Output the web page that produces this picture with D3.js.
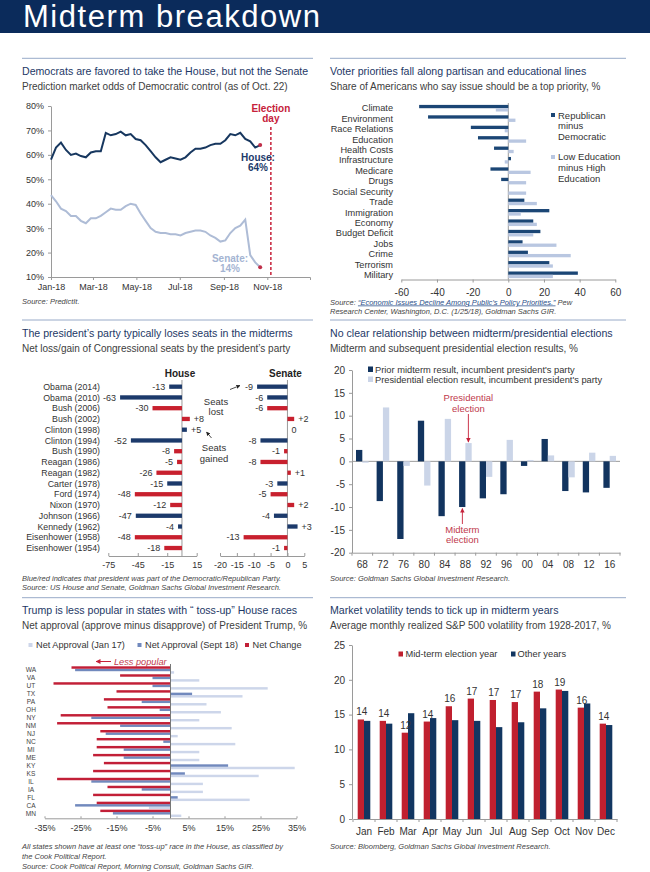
<!DOCTYPE html>
<html>
<head>
<meta charset="utf-8">
<script src="https://cdn.jsdelivr.net/npm/d3@7"></script>
<style>
body { margin: 0; background: #fff; }
svg { display: block; font-family: "Liberation Sans", Arial, sans-serif; }
.ttl { fill: #1d3866; font-size: 10.6px; }
.sub { fill: #404040; font-size: 10px; }
.src { fill: #444; font-size: 7.5px; font-style: italic; }
.lbl { fill: #333; }
</style>
</head>
<body>
<script>
// ---- data ----
// panel 1: PredictIt odds of Democratic control, weekly from Jan 1 to Oct 22 2018
var houseOdds = [58,63,65,62,60,60.5,59.5,59,61,61.5,61.5,69,68,68.5,69.5,68,68.5,66.5,66,64,61.5,59,57,58,59,58.5,58,59,61,62.5,62.5,63,64,64.5,64.5,66,68.5,68,69,66.5,65.5,63,64];
var senateOdds = [43.5,41,38,37,35,35,33,32,34,34,35,36.5,38,37.5,37.5,39,40,39.5,36,33,30,28.5,28,28,27.5,27.5,27,28,28.5,29,29,28.5,27,26,24.5,25,28,30,31,33.5,19,16,14];
var oddsTicks = [10,20,30,40,50,60,70,80];

// panel 2: voter priorities
var issues = ["Climate","Environment","Race Relations","Education","Health Costs","Infrastructure","Medicare","Drugs","Social Security","Trade","Immigration","Economy","Budget Deficit","Jobs","Crime","Terrorism","Military"];
var repMinusDem = [-50,-45,-21,-17,-8,1.5,-10,-4,0,9,23,14,18,8,11,23,39];
var lowMinusHigh = [-7,4,-2,10,3,-2,12.5,10,10,16,7,16,14,27,35,25,25];
var priorityTicks = [-60,-40,-20,0,20,40,60];

// panel 3: midterm seat changes
var presidents = ["Obama (2014)","Obama (2010)","Bush (2006)","Bush (2002)","Clinton (1998)","Clinton (1994)","Bush (1990)","Reagan (1986)","Reagan (1982)","Carter (1978)","Ford (1974)","Nixon (1970)","Johnson (1966)","Kennedy (1962)","Eisenhower (1958)","Eisenhower (1954)"];
var presParty = ["D","D","R","R","D","D","R","R","R","D","R","R","D","D","R","R"];
var houseSeats = [-13,-63,-30,8,5,-52,-8,-5,-26,-15,-48,-12,-47,-4,-48,-18];
var senateSeats = [-9,-6,-6,2,0,-8,-1,-8,1,-3,-5,2,-4,3,-13,-1];
var houseTicks = [-75,-45,-15,15];
var senateTicks = [-20,-15,-10,-5,0,5];

// panel 4: midterm vs presidential results
var elYears = ["68","72","76","80","84","88","92","96","00","04","08","12","16"];
var priorMidterm = [2.5,-8.7,-17,8.9,-12,-10,-8.1,-7.2,-1,4.9,-6.5,-6.8,-5.8];
var presResult = [-0.3,11.8,-1,-5.3,9.3,4,-3.4,4.7,0.3,1.3,-3.5,1.9,1.2];
var elTicks = [-20,-15,-10,-5,0,5,10,15,20];

// panel 5: Trump net approval by state
var states = ["WA","VA","UT","TX","PA","OH","NY","NM","NJ","NC","MI","ME","KY","KS","IL","IA","FL","CA","MN"];
var approvalJan = [1,8,27,20,10,14,8,17,2,18,8,8,34.5,24.5,9,9,22,-6,3];
var approvalSep = [-26.5,-5,-5,6,-8,-3,-22,-14,-18,-2,-13,-13,16,4,-22,-8,2,-26.5,-16];
var approvalChg = [-27.5,-14,-32.5,-15,-18.5,-17.5,-30.5,-31.5,-19.5,-20.5,-20.5,-21.5,-18.5,-21.5,-31.5,-17.5,-21.5,-20.5,-19.5];
var approvalTicks = [-35,-25,-15,-5,5,15,25,35];

// panel 6: S&P 500 volatility by month
var months = ["Jan","Feb","Mar","Apr","May","Jun","Jul","Aug","Sep","Oct","Nov","Dec"];
var volMidterm = [14.3,14.1,12.4,14,16.2,17.3,17.1,16.8,18.3,18.6,16,13.7];
var volOther = [14.1,13.7,15.2,14.5,14.2,14.1,13.2,13.9,15.9,18.4,16.6,13.5];
var volTicks = [0,5,10,15,20,25];

var navy = "#1c3a6b", red = "#c6213a", grey = "#9a9a9a";
var plain = function(d) { return String(d); }; // keeps a hyphen for negatives

var svg = d3.select("body").append("svg").attr("width", 650).attr("height", 872);
var defs = svg.append("defs");
function marker(id, color) {
  defs.append("marker").attr("id", id).attr("viewBox", "0 0 10 10")
    .attr("refX", 9).attr("refY", 5).attr("markerWidth", 5).attr("markerHeight", 5)
    .attr("orient", "auto")
    .append("path").attr("d", "M0,0L10,5L0,10z").attr("fill", color);
}
marker("arrRed", red);
marker("arrDark", "#222");

// banner
svg.append("rect").attr("width", 650).attr("height", 33).attr("fill", "#0b2b5b");
svg.append("text").attr("x", 23).attr("y", 27).attr("fill", "#fff")
  .attr("font-size", 31).attr("textLength", 297).attr("lengthAdjust", "spacing")
  .text("Midterm breakdown");

function header(x0, x1, y, title, sub) {
  svg.append("line").attr("x1", x0).attr("x2", x1).attr("y1", y).attr("y2", y)
    .attr("stroke", "#98aac8").attr("stroke-width", 1);
  svg.append("text").attr("class", "ttl").attr("x", x0).attr("y", y + 16.7).text(title);
  svg.append("text").attr("class", "sub").attr("x", x0).attr("y", y + 31.5).text(sub);
}
function note(x, y, lines) {
  lines.forEach(function(t, i) {
    svg.append("text").attr("class", "src").attr("x", x).attr("y", y + i * 9.8).text(t);
  });
}
function styleAxis(g, fs) {
  g.attr("font-family", null).attr("font-size", fs);
  g.select(".domain").attr("stroke", grey);
  g.selectAll(".tick line").attr("stroke", grey);
  g.selectAll(".tick text").attr("fill", "#333");
  return g;
}
function textLines(x, y, lines, fill, opts) {
  var t = svg.append("text").attr("x", x).attr("y", y).attr("fill", fill)
    .attr("font-size", opts.size || 10).attr("text-anchor", opts.anchor || "middle")
    .attr("font-weight", opts.weight || null).attr("font-style", opts.style || null);
  lines.forEach(function(s, i) {
    t.append("tspan").attr("x", x).attr("dy", i ? (opts.lh || 10.4) : 0).text(s);
  });
}

// ===== panel 1 =====
header(22, 313, 58.3, "Democrats are favored to take the House, but not the Senate",
  "Prediction market odds of Democratic control (as of Oct. 22)");
var oddsWeeks = d3.timeMonday.range(new Date(2018, 0, 1), new Date(2018, 9, 23));
var x1 = d3.scaleTime().domain([new Date(2018, 0, 1), new Date(2018, 11, 31)]).range([51, 310]);
var y1 = d3.scaleLinear().domain([10, 80]).range([277, 106]);

styleAxis(svg.append("g").attr("transform", "translate(51,0)")
  .call(d3.axisLeft(y1).tickValues(oddsTicks).tickFormat(function(d) { return d + "%"; })
    .tickSize(3).tickSizeOuter(0).tickPadding(4)), 9);
styleAxis(svg.append("g").attr("transform", "translate(0,277)")
  .call(d3.axisBottom(x1).ticks(d3.timeMonth.every(2)).tickFormat(d3.timeFormat("%b-%y"))
    .tickSize(3).tickSizeOuter(3).tickPadding(4)), 9);

var line1 = d3.line().x(function(d, i) { return x1(oddsWeeks[i]); }).y(function(d) { return y1(d); });
svg.append("path").datum(senateOdds).attr("d", line1).attr("fill", "none")
  .attr("stroke", "#aebcd6").attr("stroke-width", 2);
svg.append("path").datum(houseOdds).attr("d", line1).attr("fill", "none")
  .attr("stroke", "#17375f").attr("stroke-width", 2);
[houseOdds, senateOdds].forEach(function(s) {
  svg.append("circle").attr("cx", x1(oddsWeeks[s.length - 1])).attr("cy", y1(s[s.length - 1]))
    .attr("r", 2).attr("fill", "#c0304a");
});
var elecDay = new Date(2018, 10, 6);
svg.append("line").attr("x1", x1(elecDay)).attr("x2", x1(elecDay)).attr("y1", 127).attr("y2", 277)
  .attr("stroke", red).attr("stroke-width", 1.5).attr("stroke-dasharray", "3,2");
textLines(x1(elecDay), 112, ["Election", "day"], red, { weight: "bold", size: 10 });
textLines(258, 161, ["House:", "64%"], "#1c3a6b", { weight: "bold", size: 10 });
textLines(230, 262, ["Senate:", "14%"], "#a4b4d2", { weight: "bold", size: 10 });
note(22, 304, ["Source: PredictIt."]);

// ===== panel 2 =====
header(330, 626, 58.3, "Voter priorities fall along partisan and educational lines",
  "Share of Americans who say issue should be a top priority, %");
var x2 = d3.scaleLinear().domain([-60, 60]).range([401.3, 615.3]);
var y2 = d3.scaleBand().domain(issues).range([103, 280]);
var sub2 = d3.scaleBand().domain(["rep", "edu"]).range([1.9, y2.bandwidth() - 1.9]);
var p2 = issues.map(function(d, i) { return { k: d, rep: repMinusDem[i], edu: lowMinusHigh[i] }; });

styleAxis(svg.append("g").attr("transform", "translate(0,279.5)")
  .call(d3.axisBottom(x2).tickValues(priorityTicks).tickFormat(plain)
    .tickSize(3).tickSizeOuter(0).tickPadding(6)), 10);
svg.append("line").attr("x1", x2(0)).attr("x2", x2(0)).attr("y1", 103).attr("y2", 279.5).attr("stroke", grey);
[["rep", "#1b4675"], ["edu", "#b9c7e1"]].forEach(function(s) {
  svg.append("g").selectAll("rect").data(p2).join("rect")
    .attr("x", function(d) { return x2(Math.min(0, d[s[0]])); })
    .attr("width", function(d) { return Math.abs(x2(d[s[0]]) - x2(0)); })
    .attr("y", function(d) { return y2(d.k) + sub2(s[0]); })
    .attr("height", sub2.bandwidth()).attr("fill", s[1]);
});
svg.append("g").selectAll("text").data(issues).join("text").attr("class", "lbl")
  .attr("x", 393).attr("y", function(d) { return y2(d) + y2.bandwidth() / 2 + 3.2; })
  .attr("text-anchor", "end").attr("font-size", 9.2).text(function(d) { return d; });
svg.append("rect").attr("x", 551).attr("y", 113).attr("width", 4).attr("height", 4).attr("fill", "#1b4675");
textLines(558, 118.5, ["Republican", "minus", "Democratic"], "#333", { anchor: "start", size: 9.5, lh: 10.6 });
svg.append("rect").attr("x", 551).attr("y", 155).attr("width", 4).attr("height", 4).attr("fill", "#b9c7e1");
textLines(558, 160.3, ["Low Education", "minus High", "Education"], "#333", { anchor: "start", size: 9.5, lh: 10.6 });
var s2 = svg.append("text").attr("class", "src").attr("x", 330).attr("y", 304.5);
s2.append("tspan").text("Source: ");
s2.append("tspan").attr("text-decoration", "underline").attr("fill", "#2a4f8a")
  .text("\u201cEconomic Issues Decline Among Public\u2019s Policy Priorities.\u201d");
s2.append("tspan").text(" Pew");
note(330, 314.3, ["Research Center, Washington, D.C. (1/25/18), Goldman Sachs GIR."]);

// ===== panel 3 =====
header(22, 313, 320, "The president\u2019s party typically loses seats in the midterms",
  "Net loss/gain of Congressional seats by the president\u2019s party");
var y3 = d3.scaleBand().domain(presidents).range([381.3, 553.4]).paddingInner(0.6).paddingOuter(0.3);
var xh = d3.scaleLinear().domain([-75, 15]).range([108.3, 196.7]);
var xs = d3.scaleLinear().domain([-20, 5]).range([220, 304.3]);
var p3 = presidents.map(function(d, i) { return { k: d, party: presParty[i], house: houseSeats[i], senate: senateSeats[i] }; });
function fmtSeat(v) { return v > 0 ? "+" + v : "" + v; }

[["house", xh, houseTicks, "House"], ["senate", xs, senateTicks, "Senate"]].forEach(function(c) {
  var key = c[0], sx = c[1];
  styleAxis(svg.append("g").attr("transform", "translate(0,556)")
    .call(d3.axisBottom(sx).tickValues(c[2]).tickFormat(plain)
      .tickSize(-3).tickSizeOuter(0).tickPadding(6)), 9);
  svg.append("line").attr("x1", sx(0)).attr("x2", sx(0)).attr("y1", 380).attr("y2", 556).attr("stroke", grey);
  svg.append("g").selectAll("rect").data(p3).join("rect")
    .attr("x", function(d) { return sx(Math.min(0, d[key])); })
    .attr("width", function(d) { return Math.abs(sx(d[key]) - sx(0)); })
    .attr("y", function(d) { return y3(d.k); }).attr("height", y3.bandwidth())
    .attr("fill", function(d) { return d.party === "D" ? navy : "#c8202e"; });
  svg.append("g").selectAll("text").data(p3).join("text").attr("class", "lbl")
    .attr("font-size", 9)
    .attr("x", function(d) { return d[key] < 0 ? sx(d[key]) - 4 : sx(d[key]) + 4; })
    .attr("y", function(d) { return y3(d.k) + y3.bandwidth() / 2 + 3.2; })
    .attr("text-anchor", function(d) { return d[key] < 0 ? "end" : "start"; })
    .text(function(d) { return fmtSeat(d[key]); });
  svg.append("text").attr("x", sx(0) - 2).attr("y", 376.5).attr("text-anchor", "middle")
    .attr("font-weight", "bold").attr("font-size", 10).attr("fill", "#222").text(c[3]);
});
svg.append("g").selectAll("text").data(presidents).join("text").attr("class", "lbl")
  .attr("x", 100).attr("y", function(d) { return y3(d) + y3.bandwidth() / 2 + 3.2; })
  .attr("text-anchor", "end").attr("font-size", 8.8).text(function(d) { return d; });
textLines(216, 404.5, ["Seats", "lost"], "#333", { size: 9.5, lh: 10.8 });
textLines(214, 451, ["Seats", "gained"], "#333", { size: 9.5, lh: 11 });
svg.append("line").attr("x1", 230).attr("y1", 389.5).attr("x2", 240).attr("y2", 385.5)
  .attr("stroke", "#222").attr("stroke-width", 0.8).attr("marker-end", "url(#arrDark)");
svg.append("line").attr("x1", 211.5).attr("y1", 438).attr("x2", 206.5).attr("y2", 432)
  .attr("stroke", "#222").attr("stroke-width", 0.8).attr("marker-end", "url(#arrDark)");
note(22, 580.5, ["Blue/red indicates that president was part of the Democratic/Republican Party.",
  "Source: US House and Senate, Goldman Sachs Global Investment Research."]);

// ===== panel 4 =====
header(330, 626, 320, "No clear relationship between midterm/presidential elections",
  "Midterm and subsequent presidential election results, %");
var x4 = d3.scaleBand().domain(elYears).range([352, 620]);
var y4 = d3.scaleLinear().domain([-20, 20]).range([552.7, 370]);
var bw4 = 6.3;
var p4 = elYears.map(function(d, i) { return { k: d, mid: priorMidterm[i], pres: presResult[i] }; });
styleAxis(svg.append("g").attr("transform", "translate(352,0)")
  .call(d3.axisLeft(y4).tickValues(elTicks).tickFormat(plain)
    .tickSize(3).tickSizeOuter(0).tickPadding(4)), 10);
var ax4 = styleAxis(svg.append("g").attr("transform", "translate(0,552.7)")
  .call(d3.axisBottom(x4).tickSize(0).tickPadding(8)), 10);
ax4.selectAll(".bnd").data(elYears.concat(["end"])).join("line").attr("class", "bnd")
  .attr("x1", function(d) { return d === "end" ? x4.range()[1] : x4(d); })
  .attr("x2", function(d) { return d === "end" ? x4.range()[1] : x4(d); })
  .attr("y1", 0).attr("y2", 3).attr("stroke", grey);
svg.append("line").attr("x1", 352).attr("x2", 620).attr("y1", y4(0)).attr("y2", y4(0)).attr("stroke", grey);
[["mid", "#12345f", -bw4], ["pres", "#cbd5e8", 0]].forEach(function(s) {
  svg.append("g").selectAll("rect").data(p4).join("rect")
    .attr("x", function(d) { return x4(d.k) + x4.bandwidth() / 2 + s[2]; })
    .attr("width", bw4)
    .attr("y", function(d) { return y4(Math.max(0, d[s[0]])); })
    .attr("height", function(d) { return Math.abs(y4(d[s[0]]) - y4(0)); })
    .attr("fill", s[1]);
});
svg.append("rect").attr("x", 368).attr("y", 366.5).attr("width", 5).attr("height", 5.5).attr("fill", "#12345f");
svg.append("text").attr("class", "lbl").attr("x", 375).attr("y", 372.5).attr("font-size", 9.3)
  .text("Prior midterm result, incumbent president's party");
svg.append("rect").attr("x", 368).attr("y", 376.5).attr("width", 5).attr("height", 5.5).attr("fill", "#cbd5e8");
svg.append("text").attr("class", "lbl").attr("x", 375).attr("y", 382.5).attr("font-size", 9.3)
  .text("Presidential election result, incumbent president's party");
var c88 = x4("88") + x4.bandwidth() / 2;
textLines(c88 + 3, 401, ["Presidential", "election"], "#c0394b", { size: 9.5, lh: 10.7 });
svg.append("line").attr("x1", c88 + 3).attr("x2", c88 + 3).attr("y1", 414).attr("y2", y4(presResult[5]) - 1)
  .attr("stroke", red).attr("stroke-width", 0.9).attr("marker-end", "url(#arrRed)");
textLines(c88 - 3, 532.7, ["Midterm", "election"], "#c0394b", { size: 9.5, lh: 10.7 });
svg.append("line").attr("x1", c88 - 3).attr("x2", c88 - 3).attr("y1", 524).attr("y2", y4(priorMidterm[5]) + 1.5)
  .attr("stroke", red).attr("stroke-width", 0.9).attr("marker-end", "url(#arrRed)");
note(330, 580.5, ["Source: Goldman Sachs Global Investment Research."]);

// ===== panel 5 =====
header(22, 313, 597.7, "Trump is less popular in states with \u201c toss-up\u201d  House races",
  "Net approval (approve minus disapprove) of President Trump, %");
var x5 = d3.scaleLinear().domain([-35, 35]).range([44.5, 296.5]);
var y5 = d3.scaleBand().domain(states).range([666, 817.3]);
var sub5 = d3.scaleBand().domain(["chg", "sep", "jan"]).range([0.3, y5.bandwidth() - 0.3]);
var p5 = states.map(function(d, i) { return { k: d, jan: approvalJan[i], sep: approvalSep[i], chg: approvalChg[i] }; });
var c5 = { jan: "#cdd6ea", sep: "#7189bd", chg: "#c21f37" };
styleAxis(svg.append("g").attr("transform", "translate(0,818.3)")
  .call(d3.axisBottom(x5).tickValues(approvalTicks).tickFormat(function(d) { return d + "%"; })
    .tickSize(-2).tickSizeOuter(0).tickPadding(6)), 9);
["jan", "sep", "chg"].forEach(function(key) {
  svg.append("g").selectAll("rect").data(p5).join("rect")
    .attr("x", function(d) { return x5(Math.min(0, d[key])); })
    .attr("width", function(d) { return Math.abs(x5(d[key]) - x5(0)); })
    .attr("y", function(d) { return y5(d.k) + sub5(key); })
    .attr("height", sub5.bandwidth()).attr("fill", c5[key]);
});
svg.append("line").attr("x1", x5(0)).attr("x2", x5(0)).attr("y1", 664).attr("y2", 818.3).attr("stroke", "#777");
svg.append("g").selectAll("text").data(states).join("text").attr("fill", "#444")
  .attr("x", 31).attr("y", function(d) { return y5(d) + y5.bandwidth() / 2 + 2.3; })
  .attr("text-anchor", "middle").attr("font-size", 6.6).text(function(d) { return d; });
[["jan", 28.5, "Net Approval (Jan 17)"], ["sep", 137.5, "Net Approval (Sept 18)"], ["chg", 245, "Net Change"]].forEach(function(l) {
  svg.append("rect").attr("x", l[1]).attr("y", 643).attr("width", 4).attr("height", 4).attr("fill", c5[l[0]]);
  svg.append("text").attr("class", "lbl").attr("x", l[1] + 7.5).attr("y", 648.3).attr("font-size", 9.2).text(l[2]);
});
svg.append("line").attr("x1", 111).attr("x2", 96).attr("y1", 661.5).attr("y2", 661.5)
  .attr("stroke", red).attr("stroke-width", 1).attr("marker-end", "url(#arrRed)");
svg.append("text").attr("x", 114).attr("y", 665).attr("fill", "#c0394b").attr("font-size", 9.2)
  .attr("font-style", "italic").text("Less popular");
note(22, 849, ["All states shown have at least one \u201ctoss-up\u201d race in the House, as classified by",
  "the Cook Political Report.",
  "Source: Cook Political Report, Morning Consult, Goldman Sachs GIR."]);

// ===== panel 6 =====
header(330, 626, 597.7, "Market volatility tends to tick up in midterm years",
  "Average monthly realized S&P 500 volatility from 1928-2017, %");
var x6 = d3.scaleBand().domain(months).range([353, 617]);
var y6 = d3.scaleLinear().domain([0, 25]).range([819, 645]);
var bw6 = 6.3;
var p6 = months.map(function(d, i) { return { k: d, mid: volMidterm[i], oth: volOther[i] }; });
styleAxis(svg.append("g").attr("transform", "translate(352,0)")
  .call(d3.axisLeft(y6).tickValues(volTicks).tickSize(3).tickSizeOuter(0).tickPadding(4)), 10);
var ax6 = styleAxis(svg.append("g").attr("transform", "translate(0,819)")
  .call(d3.axisBottom(x6).tickSize(0).tickPadding(9)), 10);
ax6.selectAll(".bnd").data(months.concat(["end"])).join("line").attr("class", "bnd")
  .attr("x1", function(d) { return d === "end" ? x6.range()[1] : x6(d); })
  .attr("x2", function(d) { return d === "end" ? x6.range()[1] : x6(d); })
  .attr("y1", 0).attr("y2", 3).attr("stroke", grey);
[["mid", "#c0202f", -bw6], ["oth", "#123661", 0]].forEach(function(s) {
  svg.append("g").selectAll("rect").data(p6).join("rect")
    .attr("x", function(d) { return x6(d.k) + x6.bandwidth() / 2 + s[2]; })
    .attr("width", bw6)
    .attr("y", function(d) { return y6(d[s[0]]); })
    .attr("height", function(d) { return y6(0) - y6(d[s[0]]); })
    .attr("fill", s[1]);
});
svg.append("g").selectAll("text").data(p6).join("text").attr("class", "lbl")
  .attr("font-size", 10).attr("text-anchor", "middle")
  .attr("x", function(d) { return x6(d.k) + x6.bandwidth() / 2 - bw6 / 2 + 1; })
  .attr("y", function(d) { return y6(d.mid) - 4; })
  .text(function(d) { return Math.round(d.mid); });
svg.append("rect").attr("x", 398.5).attr("y", 651.5).attr("width", 4.5).attr("height", 5).attr("fill", "#c0202f");
svg.append("text").attr("class", "lbl").attr("x", 405.5).attr("y", 657.3).attr("font-size", 9.3).text("Mid-term election year");
svg.append("rect").attr("x", 511).attr("y", 651.5).attr("width", 4.5).attr("height", 5).attr("fill", "#123661");
svg.append("text").attr("class", "lbl").attr("x", 517.5).attr("y", 657.3).attr("font-size", 9.3).text("Other years");
note(330, 849, ["Source: Bloomberg, Goldman Sachs Global Investment Research."]);
</script>
</body>
</html>
